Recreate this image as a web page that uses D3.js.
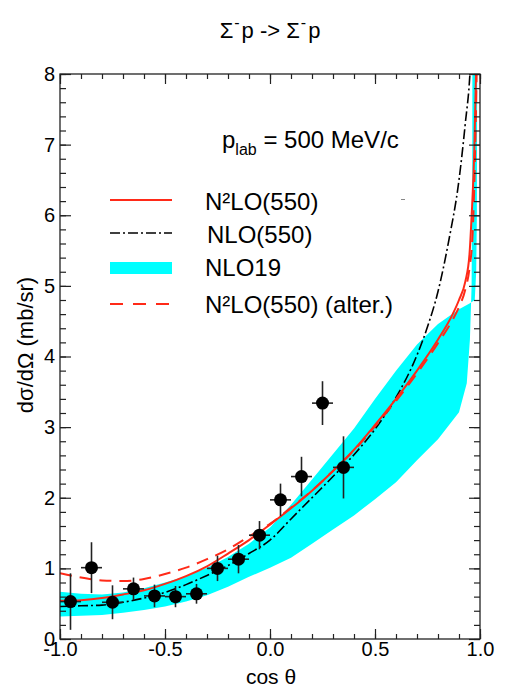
<!DOCTYPE html>
<html>
<head>
<meta charset="utf-8">
<script src="https://cdn.jsdelivr.net/npm/d3@7"></script>
<style>
  body { margin: 0; background: #fff; }
  svg { display: block; }
  text { font-family: "Liberation Sans", Arial, Helvetica, sans-serif; fill: #000; }
</style>
</head>
<body>
<svg id="chart" width="505" height="697"></svg>
<script>
// ---------- data ----------
const xDomain = [-1, 1];
const yDomain = [0, 8];
const xMajorTicks = [-1.0, -0.5, 0.0, 0.5, 1.0];
const xTickLabels = ["-1.0", "-0.5", "0.0", "0.5", "1.0"];
const yMajorTicks = [0, 1, 2, 3, 4, 5, 6, 7, 8];

// experimental data
const dataX   = [-0.95, -0.85, -0.75, -0.65, -0.55, -0.45, -0.35, -0.25, -0.15, -0.05, 0.05, 0.15, 0.25, 0.35];
const dataY   = [0.53, 1.01, 0.52, 0.71, 0.61, 0.60, 0.64, 1.00, 1.13, 1.47, 1.97, 2.30, 3.34, 2.43];
const dataErr = [0.40, 0.36, 0.24, 0.16, 0.16, 0.15, 0.14, 0.18, 0.20, 0.20, 0.23, 0.28, 0.31, 0.44];
const dataXErr = 0.05;

// N2LO(550) solid red
const n2loX = [-1.0, -0.9, -0.8, -0.7, -0.6, -0.5, -0.4, -0.3, -0.2, -0.1, 0.0, 0.1, 0.2, 0.3, 0.4, 0.5, 0.6, 0.7, 0.8, 0.87, 0.9, 0.93, 0.95, 0.96, 0.973, 0.981, 0.986];
const n2loY = [0.54, 0.55, 0.58, 0.63, 0.69, 0.78, 0.89, 1.03, 1.21, 1.40, 1.62, 1.85, 2.10, 2.38, 2.68, 3.03, 3.40, 3.80, 4.24, 4.60, 4.80, 5.06, 5.45, 5.98, 6.93, 8.0, 8.8];

// NLO(550) dash-dot black
const nloX = [-1.0, -0.9, -0.8, -0.7, -0.6, -0.5, -0.4, -0.3, -0.2, -0.1, 0.0, 0.1, 0.2, 0.3, 0.4, 0.5, 0.6, 0.7, 0.75, 0.8, 0.85, 0.9, 0.93, 0.952, 0.962];
const nloY = [0.46, 0.47, 0.48, 0.52, 0.58, 0.66, 0.77, 0.90, 1.04, 1.21, 1.40, 1.70, 2.00, 2.30, 2.61, 2.97, 3.42, 4.02, 4.42, 4.92, 5.62, 6.50, 7.30, 8.0, 8.6];

// N2LO(550) (alter.) dashed red
const altX = [-1.0, -0.9, -0.8, -0.7, -0.6, -0.5, -0.4, -0.3, -0.2, -0.1, 0.0, 0.1, 0.2, 0.3, 0.4, 0.5, 0.6, 0.7, 0.8, 0.87, 0.9, 0.93, 0.95, 0.965, 0.976, 0.984, 0.988];
const altY = [0.93, 0.87, 0.83, 0.82, 0.85, 0.92, 1.01, 1.13, 1.27, 1.45, 1.63, 1.86, 2.10, 2.38, 2.67, 3.01, 3.37, 3.76, 4.19, 4.52, 4.70, 4.95, 5.25, 5.75, 6.8, 8.0, 8.8];

// NLO19 band (lower and upper boundaries)
const bandLoX = [-1.0, -0.9, -0.8, -0.7, -0.6, -0.5, -0.4, -0.3, -0.2, -0.1, 0.0, 0.1, 0.2, 0.3, 0.4, 0.5, 0.6, 0.7, 0.8, 0.9, 0.937, 0.952, 0.960, 0.963, 0.964];
const bandLoY = [0.32, 0.33, 0.34, 0.37, 0.41, 0.46, 0.53, 0.62, 0.74, 0.88, 1.01, 1.15, 1.35, 1.55, 1.75, 1.98, 2.22, 2.53, 2.83, 3.21, 3.62, 4.24, 5.0, 6.5, 8.6];
const bandHiX = [-1.0, -0.9, -0.8, -0.7, -0.6, -0.5, -0.4, -0.3, -0.2, -0.1, 0.0, 0.1, 0.2, 0.3, 0.4, 0.5, 0.6, 0.7, 0.8, 0.9, 0.95, 0.975, 0.982, 0.985, 0.987];
const bandHiY = [0.67, 0.64, 0.63, 0.66, 0.72, 0.80, 0.89, 1.01, 1.16, 1.35, 1.58, 1.90, 2.26, 2.62, 2.98, 3.40, 3.80, 4.17, 4.46, 4.67, 4.75, 4.80, 5.2, 6.0, 8.6];

const legendLabels = ["N²LO(550)", "NLO(550)", "NLO19", "N²LO(550) (alter.)"];

// ---------- layout ----------
const svg = d3.select("#chart");
const plot = { left: 60, top: 74, right: 480, bottom: 639 };
const x = d3.scaleLinear().domain(xDomain).range([plot.left, plot.right]);
const y = d3.scaleLinear().domain(yDomain).range([plot.bottom, plot.top]);
const RED = "#ff2a18";
const CYAN = "#00ffff";

svg.append("defs").append("clipPath").attr("id", "clip")
  .append("rect").attr("x", plot.left).attr("y", plot.top)
  .attr("width", plot.right - plot.left).attr("height", plot.bottom - plot.top);

const g = svg.append("g").attr("clip-path", "url(#clip)");

// band
const loPts = bandLoX.map((v, i) => [v, bandLoY[i]]);
const hiPts = bandHiX.map((v, i) => [v, bandHiY[i]]);
const bandLine = d3.line().x(d => x(d[0])).y(d => y(d[1])).curve(d3.curveLinear);
g.append("path")
  .attr("d", bandLine(loPts.concat(hiPts.slice().reverse())) + "Z")
  .attr("fill", CYAN).attr("stroke", "none");

const curve = d3.line().x(d => x(d[0])).y(d => y(d[1])).curve(d3.curveMonotoneX);
function drawCurve(xs, ys, color, width, dash) {
  g.append("path")
    .attr("d", curve(xs.map((v, i) => [v, ys[i]])))
    .attr("fill", "none").attr("stroke", color).attr("stroke-width", width)
    .attr("stroke-dasharray", dash || null);
}
drawCurve(nloX, nloY, "#000", 1.6, "10,3,2,3");
drawCurve(altX, altY, RED, 2, "12,8");
drawCurve(n2loX, n2loY, RED, 2, null);

// data points
const pts = svg.append("g");
dataX.forEach((v, i) => {
  pts.append("line")
    .attr("x1", x(v)).attr("x2", x(v))
    .attr("y1", y(dataY[i] - dataErr[i])).attr("y2", y(dataY[i] + dataErr[i]))
    .attr("stroke", "#222").attr("stroke-width", 1.6);
  pts.append("line")
    .attr("x1", x(v - dataXErr)).attr("x2", x(v + dataXErr))
    .attr("y1", y(dataY[i])).attr("y2", y(dataY[i]))
    .attr("stroke", "#222").attr("stroke-width", 1.6);
  pts.append("circle").attr("cx", x(v)).attr("cy", y(dataY[i])).attr("r", 6.5).attr("fill", "#000");
});

// ---------- axes ----------
const xMinor = d3.range(-10, 11).map(d => d / 10);
const yMinor = d3.range(0, 41).map(d => d / 5);

function styleAxis(sel) {
  sel.select(".domain").remove();
  sel.selectAll("line").attr("stroke", "#222").attr("stroke-width", 1.2);
}
// bottom
svg.append("g").attr("transform", `translate(0,${plot.bottom})`)
  .call(d3.axisBottom(x).tickValues(xMinor).tickSize(-5).tickFormat(""))
  .call(styleAxis);
const xb = svg.append("g").attr("transform", `translate(0,${plot.bottom})`)
  .call(d3.axisBottom(x).tickValues(xMajorTicks).tickSize(-10).tickPadding(3)
    .tickFormat((d, i) => xTickLabels[i]))
  .call(styleAxis);
xb.selectAll("text").style("font-size", "20px").attr("fill", "#000");
// top
svg.append("g").attr("transform", `translate(0,${plot.top})`)
  .call(d3.axisTop(x).tickValues(xMinor).tickSize(-5).tickFormat("")).call(styleAxis);
svg.append("g").attr("transform", `translate(0,${plot.top})`)
  .call(d3.axisTop(x).tickValues(xMajorTicks).tickSize(-10).tickFormat("")).call(styleAxis);
// left
svg.append("g").attr("transform", `translate(${plot.left},0)`)
  .call(d3.axisLeft(y).tickValues(yMinor).tickSize(-6).tickFormat("")).call(styleAxis);
const yl = svg.append("g").attr("transform", `translate(${plot.left},0)`)
  .call(d3.axisLeft(y).tickValues(yMajorTicks).tickSize(-11).tickPadding(5).tickFormat(d3.format("d")))
  .call(styleAxis);
yl.selectAll("text").style("font-size", "20px").attr("fill", "#000");
// right
svg.append("g").attr("transform", `translate(${plot.right},0)`)
  .call(d3.axisRight(y).tickValues(yMinor).tickSize(-6).tickFormat("")).call(styleAxis);
svg.append("g").attr("transform", `translate(${plot.right},0)`)
  .call(d3.axisRight(y).tickValues(yMajorTicks).tickSize(-11).tickFormat("")).call(styleAxis);

// frame
svg.append("rect").attr("x", plot.left).attr("y", plot.top)
  .attr("width", plot.right - plot.left).attr("height", plot.bottom - plot.top)
  .attr("fill", "none").attr("stroke", "#222").attr("stroke-width", 1.3);

// axis titles
svg.append("text").attr("x", 271).attr("y", 684).attr("text-anchor", "middle")
  .style("font-size", "21px").text("cos θ");
svg.append("text").attr("transform", "translate(33,345) rotate(-90)").attr("text-anchor", "middle")
  .style("font-size", "22px").text("dσ/dΩ (mb/sr)");

// title
const title = svg.append("text").attr("x", 270).attr("y", 38).attr("text-anchor", "middle").style("font-size", "22px");
title.append("tspan").text("Σ");
title.append("tspan").attr("dy", -10).attr("dx", 1).style("font-size", "16px").text("-");
title.append("tspan").attr("dy", 10).attr("dx", 2).text("p -> Σ");
title.append("tspan").attr("dy", -10).attr("dx", 1).style("font-size", "16px").text("-");
title.append("tspan").attr("dy", 10).attr("dx", 2).text("p");

// p_lab annotation
const pl = svg.append("text").attr("x", 222).attr("y", 148).style("font-size", "24px");
pl.append("tspan").text("p");
pl.append("tspan").attr("dy", 7).style("font-size", "16px").text("lab");
pl.append("tspan").attr("dy", -7).text(" = 500 MeV/c");

// ---------- legend ----------
const lg = svg.append("g");
const lx1 = 110, lx2 = 172, tx = 205;
lg.append("line").attr("x1", lx1).attr("x2", lx2).attr("y1", 200).attr("y2", 200)
  .attr("stroke", RED).attr("stroke-width", 2);
lg.append("line").attr("x1", lx1).attr("x2", lx2).attr("y1", 233).attr("y2", 233)
  .attr("stroke", "#000").attr("stroke-width", 1.6).attr("stroke-dasharray", "10,3,2,3");
lg.append("rect").attr("x", lx1).attr("y", 262).attr("width", lx2 - lx1).attr("height", 12).attr("fill", CYAN);
lg.append("line").attr("x1", lx1).attr("x2", lx2).attr("y1", 304).attr("y2", 304)
  .attr("stroke", RED).attr("stroke-width", 2).attr("stroke-dasharray", "13,10");
const ly = [210, 243, 276, 313];
legendLabels.forEach((t, i) => {
  lg.append("text").attr("x", i === 1 ? 207 : tx).attr("y", ly[i]).style("font-size", "24px").text(t);
});
// small stray mark
lg.append("line").attr("x1", 401).attr("x2", 405).attr("y1", 199.5).attr("y2", 199.5)
  .attr("stroke", "#888").attr("stroke-width", 1);
</script>
</body>
</html>
